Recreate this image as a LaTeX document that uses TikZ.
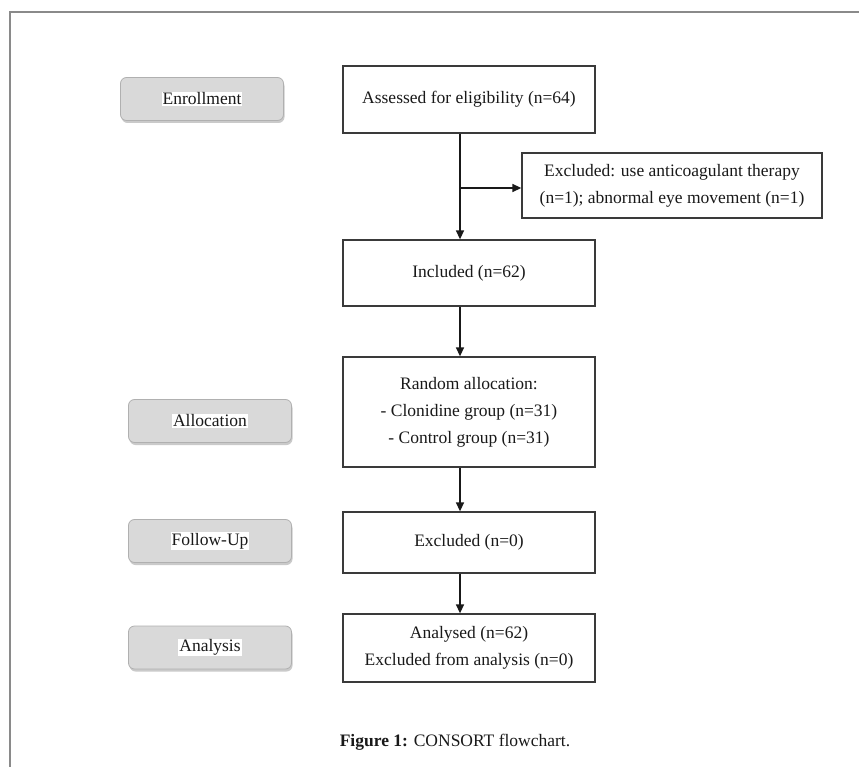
\documentclass[tikz,border=0pt]{standalone}
\usepackage{fontspec}
\setmainfont{Liberation Serif}
\usetikzlibrary{arrows.meta,shadows}
\definecolor{lblfill}{HTML}{D9D9D9}
\definecolor{lbldraw}{HTML}{B0B0B0}
\definecolor{boxdraw}{HTML}{3A3A3A}
\definecolor{framecol}{HTML}{8A8A8A}
\begin{document}
\begin{tikzpicture}[x=1pt,y=-1pt,
  every node/.style={font=\fontsize{17.5}{27}\selectfont, text=black!90},
  mainbox/.style={draw=boxdraw, line width=1.3pt, minimum width=252pt, align=center, inner sep=2pt},
  lblbox/.style={draw=lbldraw, fill=lblfill, rounded corners=6pt, line width=0.8pt,
     minimum width=163pt, minimum height=43pt,
     drop shadow={shadow xshift=1pt, shadow yshift=-2.5pt, fill=black!35, opacity=0.6}},
  lbltext/.style={fill=white, inner sep=1pt},
  conn/.style={line width=1.4pt, black!90, -{Triangle[length=9pt,width=8pt]}}
]
\useasboundingbox (0,0) rectangle (859,767);
\draw[framecol, line width=2pt] (859,12) -- (10,12) coordinate (fc) -- (10,767);

% stage labels
\node[lblbox] (enr) at (202,99) {};
\node[lbltext] (enrt) at (enr.center) {Enrollment};
\node[lblbox] (all) at (210,421) {};
\node[lbltext] (allt) at (all.center) {Allocation};
\node[lblbox] (fol) at (210,541) {};
\node[lbltext] (folt) at (fol.center) {Follow-Up};
\node[lblbox] (ana) at (210,647.5) {};
\node[lbltext] (anat) at (ana.center) {Analysis};

% main boxes
\node[mainbox, minimum height=67pt] (assess) at (469,99.5) {Assessed for eligibility (n=64)};
\node[mainbox, minimum width=300pt, minimum height=65pt] (excl) at (672,185.5)
  {Excluded: use anticoagulant therapy\\(n=1); abnormal eye movement (n=1)};
\node[mainbox, minimum height=66pt] (incl) at (469,273) {Included (n=62)};
\node[mainbox, minimum height=110pt] (rand) at (469,412)
  {Random allocation:\\- Clonidine group (n=31)\\- Control group (n=31)};
\node[mainbox, minimum height=61pt] (ex0) at (469,542.5) {Excluded (n=0)};
\node[mainbox, minimum height=68pt] (anl) at (469,648)
  {Analysed (n=62)\\Excluded from analysis (n=0)};

% connectors
\coordinate (lx) at (460,0);
\coordinate (br) at (460,188);
\draw[conn] (assess.south -| lx) -- (incl.north -| lx);
\draw[conn] (br) -- (br -| excl.west);
\draw[conn] (incl.south -| lx) -- (rand.north -| lx);
\draw[conn] (rand.south -| lx) -- (ex0.north -| lx);
\draw[conn] (ex0.south -| lx) -- (anl.north -| lx);

% caption
\node (cap) at (455,742) {\textbf{Figure 1:} CONSORT flowchart.};
\end{tikzpicture}
\end{document}
